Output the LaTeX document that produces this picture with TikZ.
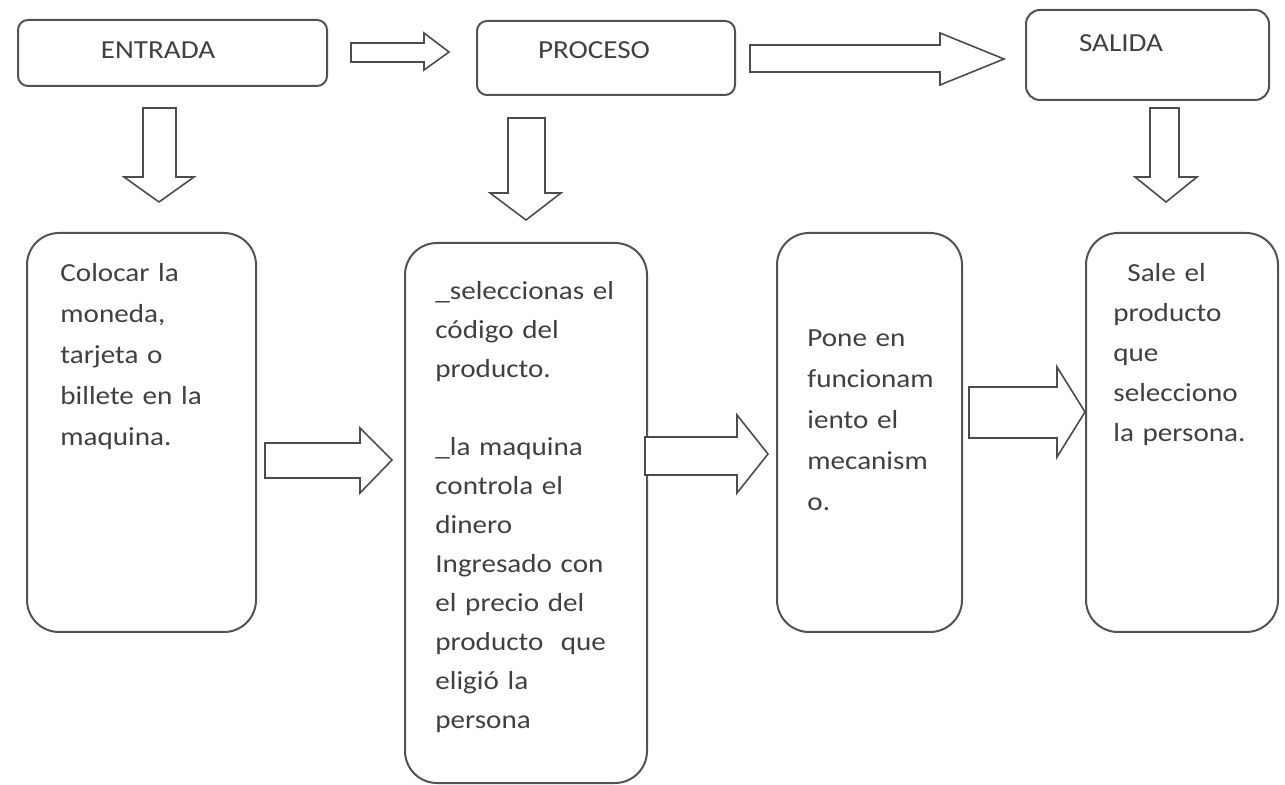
\documentclass[tikz,border=0pt]{standalone}
\usepackage{fontspec}
\setmainfont{Carlito}[FakeStretch=1.12, WordSpace=0.8]
\begin{document}
\begin{tikzpicture}[x=0.5pt,y=-0.5pt,
  boxline/.style={draw=black!68, line width=1pt},
  topbox/.style={boxline, rectangle, rounded corners=5pt, inner sep=0pt},
  bigbox/.style={boxline, rectangle, rounded corners=16pt, inner sep=0pt},
  lbl/.style={inner sep=0pt, text=black!75, font=\fontsize{13}{15}\selectfont},
  body/.style={inner sep=0pt, anchor=base west, text=black!75, align=left, text width=#1},
  blockarrow/.style={draw=black!70, line width=0.8pt, fill=white, line join=miter}
]
\useasboundingbox (0,0) rectangle (1285,785);

% top boxes
\node[topbox, minimum width=154.5pt, minimum height=33pt] (entrada) at (172.5,53) {};
\node[topbox, minimum width=129pt, minimum height=37pt] (proceso) at (606,58) {};
\node[topbox, rounded corners=7pt, minimum width=121.5pt, minimum height=45pt] (salida) at (1147.5,55) {};
\node[lbl] (tentrada) at (158,50) {ENTRADA};
\node[lbl] (tproceso) at (594,50) {PROCESO};
\node[lbl] (tsalida) at (1121,43) {SALIDA};

% lower boxes
\node[bigbox, minimum width=114.5pt, minimum height=199.5pt] (b1) at (141.5,432.5) {};
\node[bigbox, minimum width=121pt, minimum height=270pt] (b2) at (526,513) {};
\node[bigbox, minimum width=92.5pt, minimum height=199.5pt] (b3) at (869.5,432.5) {};
\node[bigbox, minimum width=96pt, minimum height=199.5pt] (b4) at (1182,432.5) {};

% texts
\node[body=95pt, font=\fontsize{13}{20.5}\selectfont] (t1) at (60,282)
  {Colocar la\\moneda,\\tarjeta o\\billete en la\\maquina.};
\node[body=105pt, font=\fontsize{13}{19.5}\selectfont] (t2) at (435,300)
  {\_seleccionas el\\código del\\producto.\\[19.5pt]\_la maquina\\controla el\\dinero\\Ingresado con\\el precio del\\producto\ \ que\\eligió la\\persona};
\node[body=85pt, font=\fontsize{13}{20.5}\selectfont] (t3) at (807,347)
  {Pone en\\funcionam\\iento el\\mecanism\\o.};
\node[body=90pt, font=\fontsize{13}{20}\selectfont] (t4) at (1113,282)
  {\hspace*{7pt}Sale el\\producto\\que\\selecciono\\la persona.};

% block arrows (right)
\draw[blockarrow] (351,43) -- (424,43) -- (424,33) -- (449,52) -- (424,70) -- (424,62) -- (351,62) -- cycle;
\draw[blockarrow] (750,45) -- (940,45) -- (940,33) -- (1004,59) -- (940,85) -- (940,72) -- (750,72) -- cycle;
\draw[blockarrow] (265,443) -- (360,443) -- (360,428) -- (392,460) -- (360,493) -- (360,478) -- (265,478) -- cycle;
\draw[blockarrow] (645,437) -- (737,437) -- (737,415) -- (768,454) -- (737,493) -- (737,475) -- (645,475) -- cycle;
\draw[blockarrow] (969,387) -- (1057,387) -- (1057,367) -- (1085,412) -- (1057,457) -- (1057,438) -- (969,438) -- cycle;

% block arrows (down)
\draw[blockarrow] (143,108) -- (176,108) -- (176,177) -- (194,177) -- (159,202) -- (124,177) -- (143,177) -- cycle;
\draw[blockarrow] (508,118) -- (545,118) -- (545,193) -- (561,193) -- (526,220) -- (490,193) -- (508,193) -- cycle;
\draw[blockarrow] (1150,108) -- (1179,108) -- (1179,177) -- (1197,177) -- (1166,202) -- (1135,177) -- (1150,177) -- cycle;
\end{tikzpicture}
\end{document}
